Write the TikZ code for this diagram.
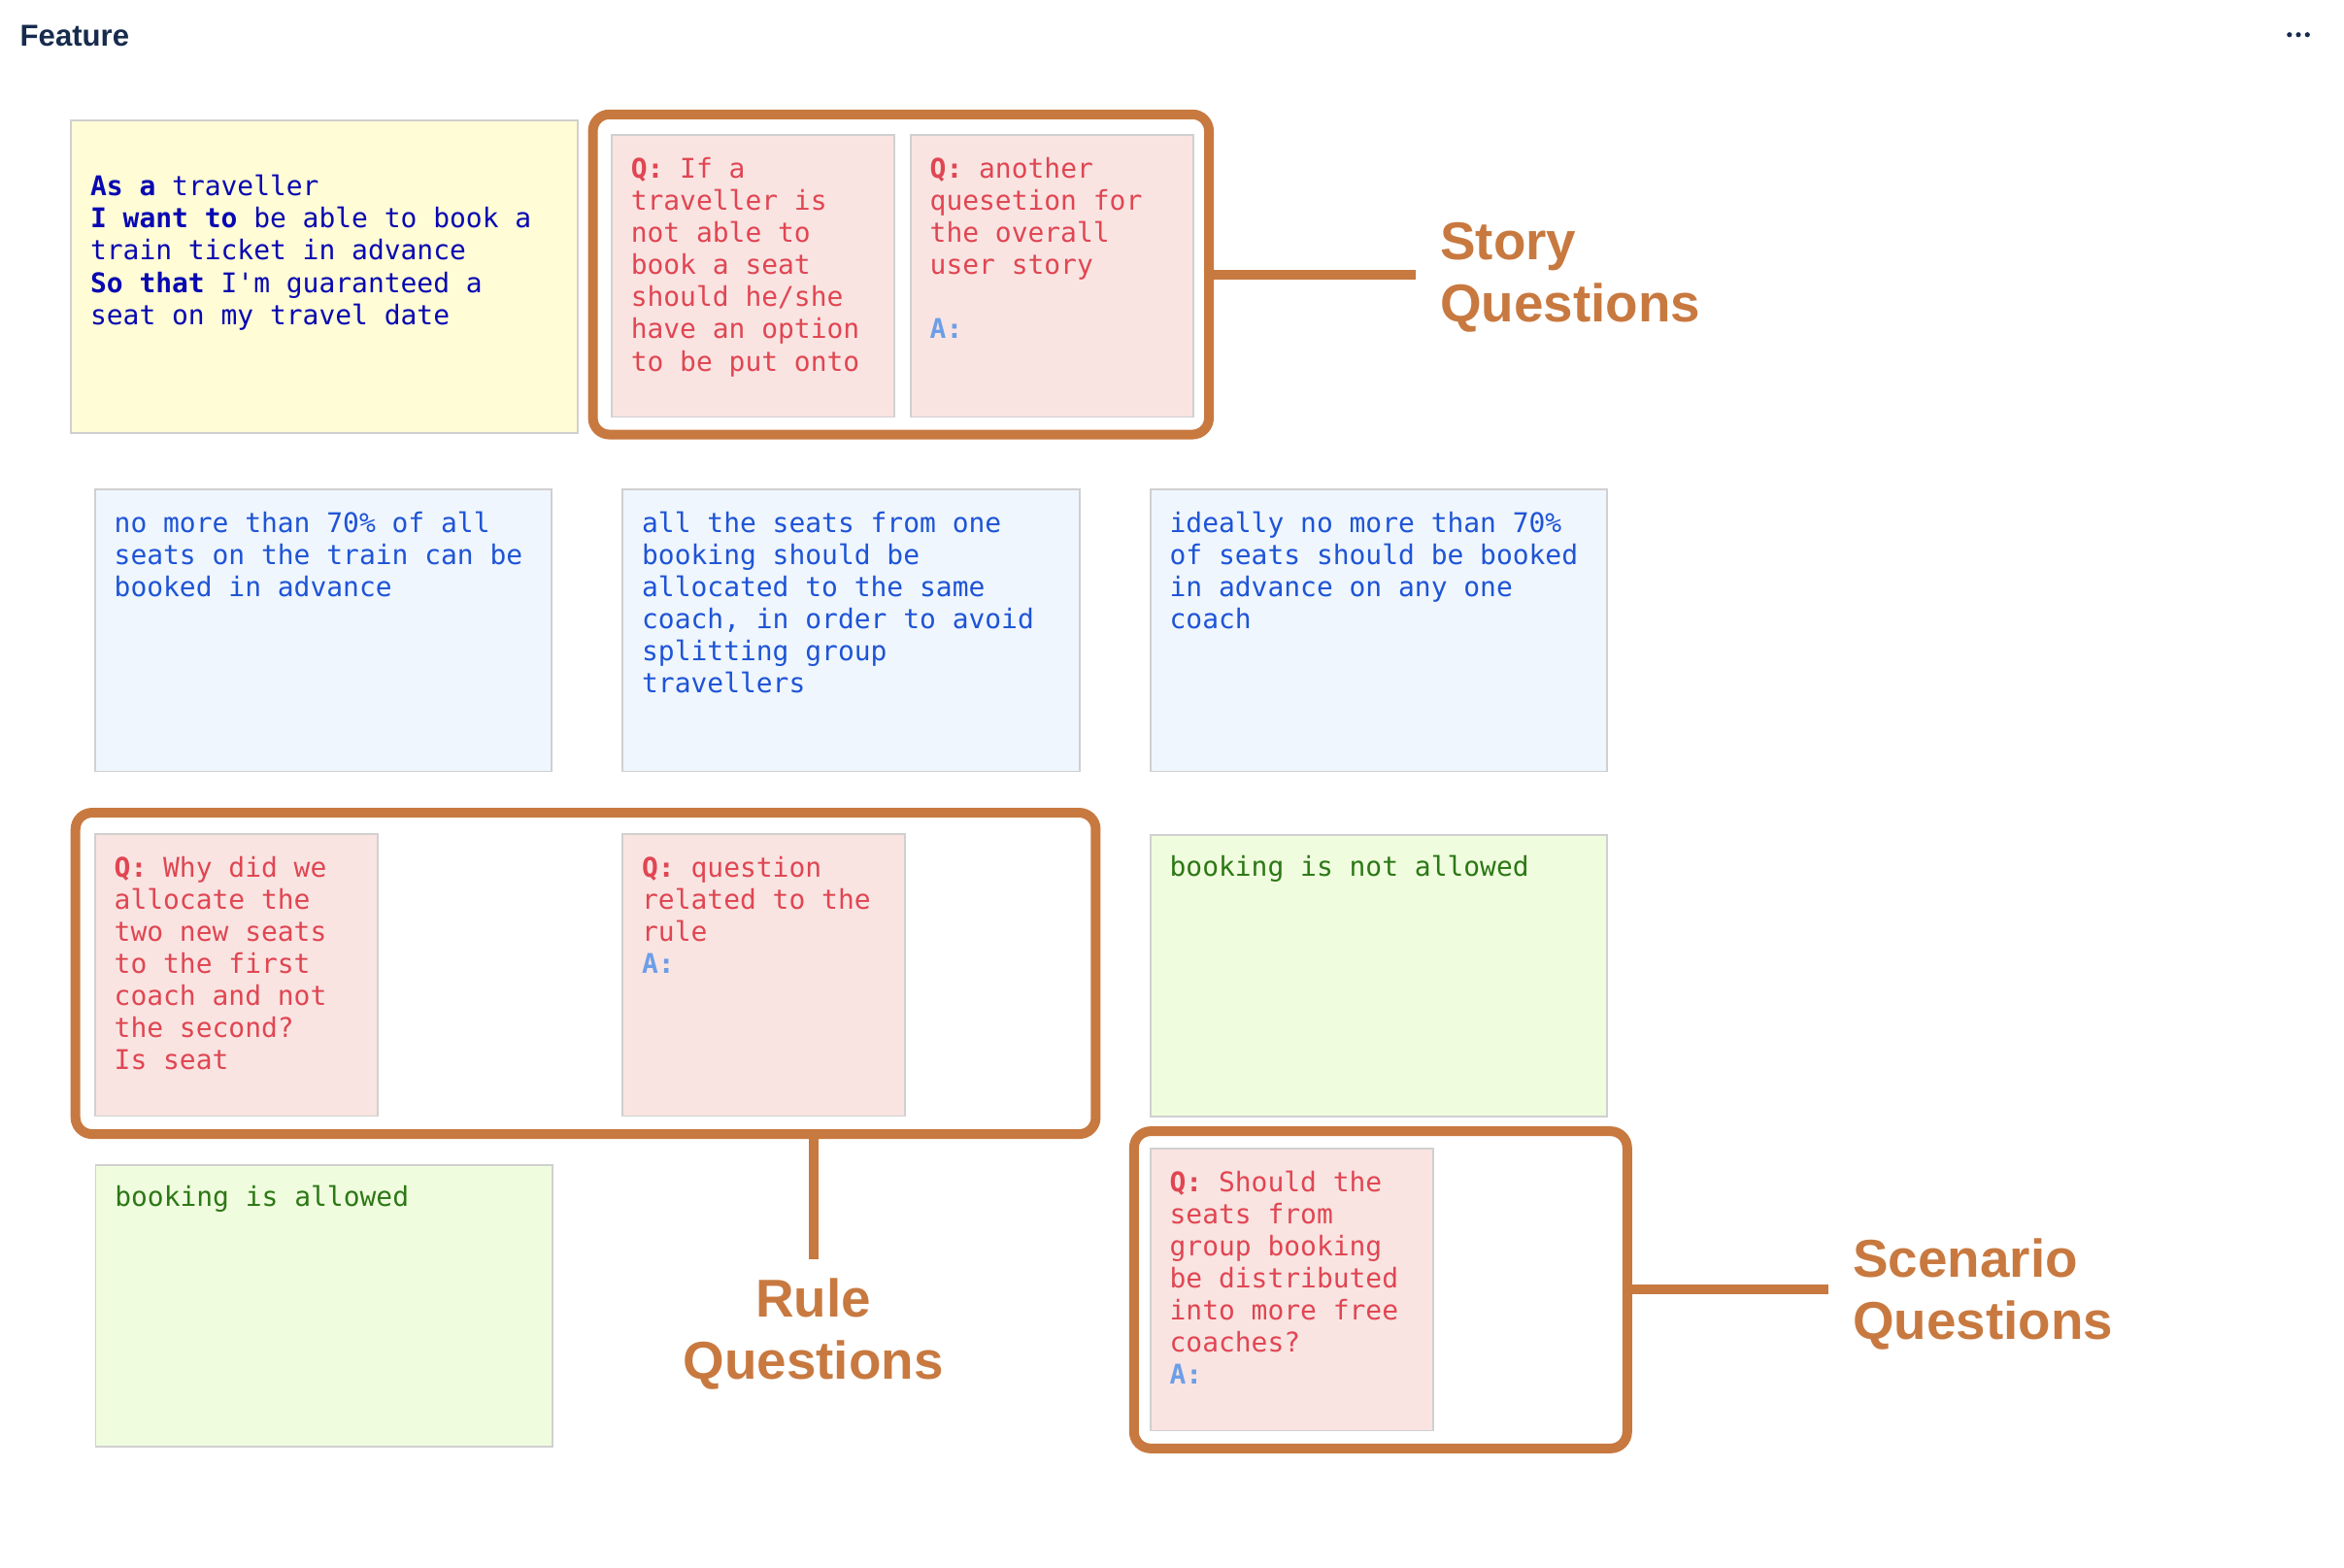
\documentclass[tikz,border=0pt]{standalone}
\usepackage{fontspec}
\setmainfont{Liberation Sans}
\setmonofont{DejaVu Sans Mono}
\definecolor{tagorange}{RGB}{200,121,64}
\definecolor{cardgray}{RGB}{208,208,208}
\definecolor{ink}{RGB}{23,43,77}
\definecolor{usfill}{RGB}{255,252,214}
\definecolor{ustext}{RGB}{8,8,178}
\definecolor{qfill}{RGB}{249,228,226}
\definecolor{qtext}{RGB}{224,70,82}
\definecolor{atext}{RGB}{108,158,232}
\definecolor{rfill}{RGB}{239,246,253}
\definecolor{rtext}{RGB}{30,84,214}
\definecolor{efill}{RGB}{240,252,222}
\definecolor{etext}{RGB}{44,120,22}
\newcommand{\ux}{0.015395cm}
\newcommand{\qlab}{\textbf{Q:}}
\newcommand{\alab}{\textcolor{atext}{\textbf{A:}}}
\tikzset{card/.style = {draw=cardgray, line width=0.5pt, anchor=north west, inner sep=0, minimum height=188.5*\ux}}
\tikzset{qcard/.style = {card, fill=qfill, minimum width=189*\ux}}
\tikzset{rcard/.style = {card, fill=rfill, minimum width=305.5*\ux}}
\tikzset{ecard/.style = {card, fill=efill, minimum width=305.5*\ux}}
\tikzset{cardtext/.style = {anchor=base west, inner sep=0, text width=330*\ux, align=flush left, font=\ttfamily\fontsize{7.95}{9.42}\selectfont, execute at begin node={\spaceskip=0pt\xspaceskip=0pt}}}
\tikzset{grp/.style = {draw=tagorange, line width=0.1cm, rounded corners=0.17cm, inner sep=0}}
\tikzset{link/.style = {draw=tagorange, line width=0.1cm}}
\tikzset{tag/.style = {text=tagorange, inner sep=0, text width=4cm, font=\bfseries\fontsize{15.6}{18.2}\selectfont}}

\begin{document}
\begin{tikzpicture}[x=\ux, y=-\ux]
    \useasboundingbox (0,0) rectangle (1568,1048.4);
    \node[anchor=base west, inner sep=0, text=ink, font=\bfseries\fontsize{8.85}{10}\selectfont] (title) at (13,31) {Feature};
    \foreach \x in {1531.5,1537.5,1543.5} \fill[ink] (\x,23.2) circle [radius=0.026cm];

    \node[card, fill=usfill, minimum width=339*\ux, minimum height=209*\ux] (story) at (47,80) {};
    \node[cardtext, text=ustext] (story-t) at ([shift={(13,51)}]story.north west)
        {\textbf{As a} traveller\\\textbf{I want to} be able to book a\\train ticket in advance\\\textbf{So that} I'm guaranteed a\\seat on my travel date};

    \node[qcard] (sq1) at (408.6,89.9) {};
    \node[cardtext, text=qtext] (sq1-t) at ([shift={(13,29.2)}]sq1.north west)
        {\qlab{} If a\\traveller is\\not able to\\book a seat\\should he/she\\have an option\\to be put onto};
    \node[qcard] (sq2) at (608.6,89.9) {};
    \node[cardtext, text=qtext] (sq2-t) at ([shift={(13,29.2)}]sq2.north west)
        {\qlab{} another\\quesetion for\\the overall\\user story\\[9.42pt]\alab};
    \node[grp, minimum width=412.1*\ux, minimum height=214.2*\ux] (storygrp) at (602.65,183.6) {};

    \node[rcard] (r1) at (63,327) {};
    \node[cardtext, text=rtext] (r1-t) at ([shift={(13,29)}]r1.north west)
        {no more than 70\% of all\\seats on the train can be\\booked in advance};
    \node[rcard] (r2) at (416,327) {};
    \node[cardtext, text=rtext] (r2-t) at ([shift={(13,29)}]r2.north west)
        {all the seats from one\\booking should be\\allocated to the same\\coach, in order to avoid\\splitting group\\travellers};
    \node[rcard] (r3) at (769,327) {};
    \node[cardtext, text=rtext] (r3-t) at ([shift={(13,29)}]r3.north west)
        {ideally no more than 70\%\\of seats should be booked\\in advance on any one\\coach};

    \node[qcard] (rq1) at (63,557.5) {};
    \node[cardtext, text=qtext] (rq1-t) at ([shift={(13,29.2)}]rq1.north west)
        {\qlab{} Why did we\\allocate the\\two new seats\\to the first\\coach and not\\the second?\\Is seat};
    \node[qcard] (rq2) at (416,557.5) {};
    \node[cardtext, text=qtext] (rq2-t) at ([shift={(13,29.2)}]rq2.north west)
        {\qlab{} question\\related to the\\rule\\\alab};
    \node[grp, minimum width=682.5*\ux, minimum height=215*\ux] (rulegrp) at (391.75,651.2) {};

    \node[ecard] (ex2) at (769,558) {};
    \node[cardtext, text=etext] (ex2-t) at ([shift={(13,28.5)}]ex2.north west) {booking is not allowed};
    \node[ecard] (ex1) at (63.4,778.8) {};
    \node[cardtext, text=etext] (ex1-t) at ([shift={(13,28.5)}]ex1.north west) {booking is allowed};

    \node[qcard] (scq) at (769,768) {};
    \node[cardtext, text=qtext] (scq-t) at ([shift={(13,29.2)}]scq.north west)
        {\qlab{} Should the\\seats from\\group booking\\be distributed\\into more free\\coaches?\\\alab};
    \node[grp, minimum width=329.9*\ux, minimum height=212.2*\ux] (scengrp) at (923.55,862.9) {};

    \node[tag, anchor=base west, align=left] (storytag) at (963,173.9) {Story\\Questions};
    \node[tag, anchor=base, align=center] (ruletag) at (544,881.2) {Rule\\Questions};
    \node[tag, anchor=base west, align=left] (scentag) at (1239,854.2) {Scenario\\Questions};

    \draw[link, shorten >=0.246cm] (storygrp.east) -- (storygrp.east -| storytag.west);
    \draw[link, shorten >=0.19cm] (rulegrp.south -| ruletag.north) -- (ruletag.north);
    \draw[link, shorten >=0.246cm] (scengrp.east) -- (scengrp.east -| scentag.west);
\end{tikzpicture}
\end{document}
